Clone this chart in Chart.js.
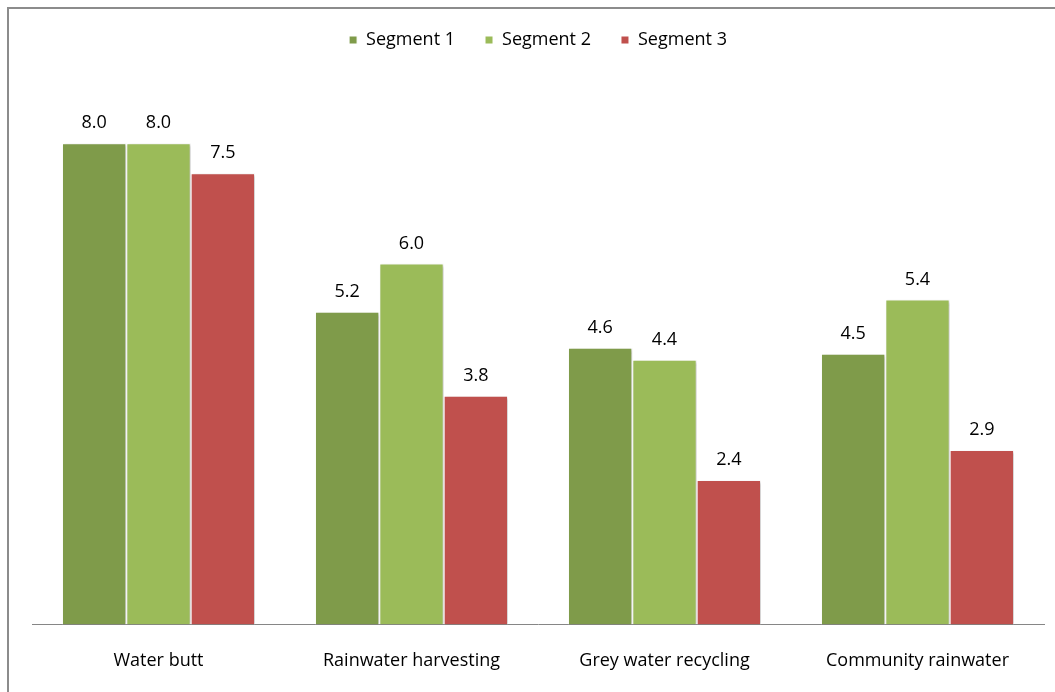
<!DOCTYPE html>
<html>
<head>
<meta charset="utf-8">
<script src="https://cdn.jsdelivr.net/npm/chart.js@4/dist/chart.umd.min.js"></script>
<style>
  html, body { margin: 0; padding: 0; background: #fff; }
  #wrap { width: 1055px; height: 692px; position: relative; }
</style>
</head>
<body>
<div id="wrap"><canvas id="myChart" width="1055" height="692"></canvas></div>
<script>
// categories and series
const categories = ["Water butt", "Rainwater harvesting", "Grey water recycling", "Community rainwater"];
const segment1 = [8.0, 5.2, 4.6, 4.5];
const segment2 = [8.0, 6.0, 4.4, 5.4];
const segment3 = [7.5, 3.8, 2.4, 2.9];
const seriesNames = ["Segment 1", "Segment 2", "Segment 3"];

const FONT = "'Open Sans', sans-serif";

// outer frame (top and left edges only show in the window)
const framePlugin = {
  id: "frame",
  beforeDraw(chart) {
    const ctx = chart.ctx;
    ctx.save();
    ctx.strokeStyle = "#8c8c8c";
    ctx.lineWidth = 2;
    ctx.beginPath();
    ctx.moveTo(8, 1000);
    ctx.lineTo(8, 8);
    ctx.lineTo(1100, 8);
    ctx.stroke();
    ctx.restore();
  },
};

// soft drop shadow on the bars
const shadowPlugin = {
  id: "barShadow",
  beforeDatasetsDraw(chart) {
    const ctx = chart.ctx;
    ctx.save();
    ctx.shadowColor = "rgba(0,0,0,0.22)";
    ctx.shadowBlur = 3;
    ctx.shadowOffsetX = 2;
    ctx.shadowOffsetY = 1;
  },
  afterDatasetsDraw(chart) {
    chart.ctx.restore();
  },
};

// numbers above each bar
const valueLabels = {
  id: "valueLabels",
  afterDatasetsDraw(chart) {
    const ctx = chart.ctx;
    ctx.save();
    ctx.font = "18px " + FONT;
    ctx.fillStyle = "#000";
    ctx.textAlign = "center";
    ctx.textBaseline = "alphabetic";
    chart.data.datasets.forEach((ds, i) => {
      chart.getDatasetMeta(i).data.forEach((bar, j) => {
        ctx.fillText(ds.data[j].toFixed(1), bar.x, bar.y - 15);
      });
    });
    ctx.restore();
  },
};

const data = {
  labels: categories,
  datasets: [
    { label: seriesNames[0], data: segment1, backgroundColor: "#7f9b4a" },
    { label: seriesNames[1], data: segment2, backgroundColor: "#9bbb59" },
    { label: seriesNames[2], data: segment3, backgroundColor: "#c0504d" },
  ],
};
data.datasets.forEach((ds) => {
  ds.borderColor = "#ffffff";
  ds.borderWidth = 1;
  ds.categoryPercentage = 0.763;
  ds.barPercentage = 1.0;
});

const config = {
  type: "bar",
  data: data,
  options: {
    responsive: false,
    animation: false,
    layout: { padding: { left: 32, right: 11, top: 1, bottom: -6 } },
    plugins: {
      legend: {
        position: "top",
        labels: {
          boxWidth: 8,
          boxHeight: 8,
          padding: 30,
          color: "#000",
          font: { family: FONT, size: 18 },
        },
      },
      tooltip: { enabled: false },
    },
    scales: {
      x: {
        grid: { display: false, drawTicks: false },
        border: { display: true, color: "#868686", width: 1 },
        ticks: { color: "#000", padding: 26, font: { family: FONT, size: 18 } },
      },
      y: {
        display: false,
        min: 0,
        max: 9.4,
      },
    },
  },
  plugins: [framePlugin, shadowPlugin, valueLabels],
};

let chart = new Chart(document.getElementById("myChart").getContext("2d"), config);
</script>
</body>
</html>
